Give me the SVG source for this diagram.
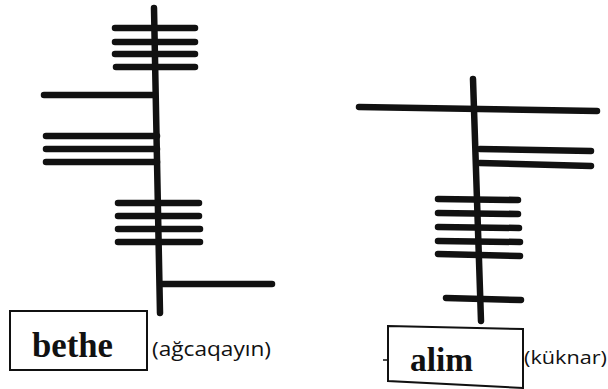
<svg xmlns="http://www.w3.org/2000/svg" width="608" height="389" viewBox="0 0 608 389">
<style>
.s{stroke:#111;stroke-width:6.5;stroke-linecap:round;fill:none}
.box{stroke:#111;stroke-width:2;fill:#fff}
.w{font-family:"Liberation Serif",serif;font-weight:bold;fill:#111}
.t{font-family:"Open Sans","Liberation Sans",sans-serif;fill:#111}
</style>
<rect width="608" height="389" fill="#fff"/>
<g id="bethe-glyph">
<line class="s" x1="154" y1="8" x2="160" y2="313"/>
<line class="s" x1="115" y1="28" x2="195" y2="28"/>
<line class="s" x1="115" y1="42" x2="195" y2="42"/>
<line class="s" x1="115" y1="54" x2="195" y2="54"/>
<line class="s" x1="116" y1="67" x2="195" y2="67"/>
<line class="s" x1="44" y1="95" x2="154" y2="95"/>
<line class="s" x1="46" y1="136" x2="157" y2="136"/>
<line class="s" x1="46" y1="149" x2="157" y2="149"/>
<line class="s" x1="46" y1="162" x2="157" y2="162"/>
<line class="s" x1="118" y1="203" x2="199" y2="203"/>
<line class="s" x1="118" y1="216" x2="199" y2="216"/>
<line class="s" x1="118" y1="229" x2="200" y2="229"/>
<line class="s" x1="118" y1="242" x2="200" y2="242"/>
<line class="s" x1="162" y1="284" x2="272" y2="284"/>
</g>
<g id="bethe-label">
<rect class="box" x="10" y="311" width="137" height="59"/>
<text class="w" x="32" y="357" font-size="35" textLength="81" lengthAdjust="spacingAndGlyphs">bethe</text>
<text class="t" x="152" y="356" font-size="20" textLength="119" lengthAdjust="spacingAndGlyphs">(ağcaqayın)</text>
</g>
<g id="alim-glyph">
<line class="s" x1="473" y1="79" x2="481" y2="321"/>
<line class="s" x1="359" y1="107" x2="597" y2="111"/>
<line class="s" x1="480" y1="149" x2="591" y2="151"/>
<line class="s" x1="480" y1="163" x2="591" y2="166"/>
<line class="s" x1="438" y1="199" x2="518" y2="200"/>
<line class="s" x1="438" y1="213" x2="518" y2="214"/>
<line class="s" x1="438" y1="227" x2="519" y2="228"/>
<line class="s" x1="438" y1="241" x2="520" y2="242"/>
<line class="s" x1="438" y1="254" x2="520" y2="256"/>
<line class="s" x1="446" y1="298" x2="521" y2="300"/>
</g>
<g id="alim-label">
<line stroke="#111" stroke-width="1.5" x1="383" y1="360" x2="388" y2="360"/>
<polygon class="box" points="388,326 523,329 523,388 388,381"/>
<text class="w" x="410" y="371" font-size="33" textLength="63" lengthAdjust="spacingAndGlyphs">alim</text>
<text class="t" x="524" y="364" font-size="19" textLength="83" lengthAdjust="spacingAndGlyphs">(küknar)</text>
</g>
</svg>
